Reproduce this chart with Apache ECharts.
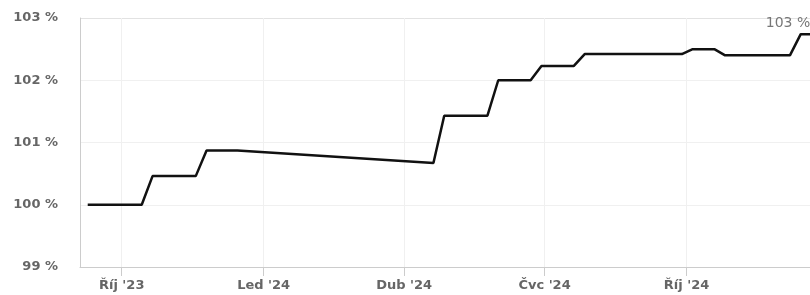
<!DOCTYPE html>
<html lang="cs">
<head>
    <meta charset="utf-8">
    <title>Vývoj hodnoty</title>
    <style>
        html, body { margin: 0; padding: 0; background: #fff; }
    </style>
</head>
<body>

<div id="main" style="width: 810px;height:295px;"></div>

<script src="https://cdn.jsdelivr.net/npm/echarts@6/dist/echarts.min.js"></script>
<script>

// data (weekly points, value in %)
var dates = [
    '2023-09-09', '2023-10-14', '2023-10-21', '2023-11-18', '2023-11-25', '2023-12-15',
    '2024-04-20', '2024-04-27', '2024-05-25', '2024-06-01', '2024-06-22', '2024-06-29',
    '2024-07-20', '2024-07-27', '2024-09-28', '2024-10-05', '2024-10-19', '2024-10-26',
    '2024-12-07', '2024-12-14', '2024-12-20'
];
var values = [
    100.0, 100.0, 100.46, 100.46, 100.87, 100.87,
    100.67, 101.43, 101.43, 102.0, 102.0, 102.23,
    102.23, 102.42, 102.42, 102.5, 102.5, 102.4,
    102.4, 102.74, 102.74
];
var monthNames = ['Led', 'Úno', 'Bře', 'Dub', 'Kvě', 'Čvn', 'Čvc', 'Srp', 'Zář', 'Říj', 'Lis', 'Pro'];
var xMin = '2023-09-04';
var xMax = '2024-12-20';
var yMin = 99, yMax = 103;

var myChart = echarts.init(document.getElementById("main"));

var points = dates.map(function (d, i) {
    var p = { value: [d, values[i]] };
    if (i === dates.length - 1) {
        p.label = {
            show: true,
            position: 'top',
            distance: 4,
            offset: [-22, 0],
            formatter: Math.round(values[i]) + ' %',
            color: '#777',
            fontSize: 14,
            fontFamily: 'DejaVu Sans'
        };
    }
    return p;
});

var option = {
    backgroundColor: '#fff',
    animation: false,
    grid: {
        left: 80,
        right: 0,
        top: 18,
        bottom: 28
    },
    xAxis: {
        type: 'time',
        min: xMin,
        max: xMax,
        splitNumber: 3,
        axisLine: { lineStyle: { color: '#ccc' } },
        axisTick: { show: true, length: 9, lineStyle: { color: '#ccc' } },
        splitLine: { show: true, lineStyle: { color: '#f0f0f0' } },
        axisLabel: {
            margin: 12,
            color: '#666',
            fontSize: 13,
            fontWeight: 'bold',
            fontFamily: 'DejaVu Sans',
            formatter: function (val) {
                var d = new Date(val);
                return monthNames[d.getMonth()] + " '" + String(d.getFullYear()).slice(2);
            }
        }
    },
    yAxis: {
        type: 'value',
        min: yMin,
        max: yMax,
        interval: 1,
        axisLine: { show: true, lineStyle: { color: '#ccc' } },
        axisTick: { show: false },
        // top line is a bit darker, like a frame
        splitLine: { show: true, lineStyle: { color: ['#f0f0f0', '#f0f0f0', '#f0f0f0', '#f0f0f0', '#e2e2e2'] } },
        axisLabel: {
            margin: 22,
            color: '#666',
            fontSize: 13,
            fontWeight: 'bold',
            fontFamily: 'DejaVu Sans',
            formatter: '{value} %'
        }
    },
    series: [
        {
            type: 'line',
            data: points,
            symbol: 'circle',
            symbolSize: 0,
            showSymbol: true,
            showAllSymbol: true,
            lineStyle: { color: '#111', width: 2.5 },
            itemStyle: { color: '#111' },
            clip: false
        }
    ]
};

myChart.setOption(option);
window.addEventListener("resize", function () {
    myChart.resize();
});

</script>
</body>
</html>
